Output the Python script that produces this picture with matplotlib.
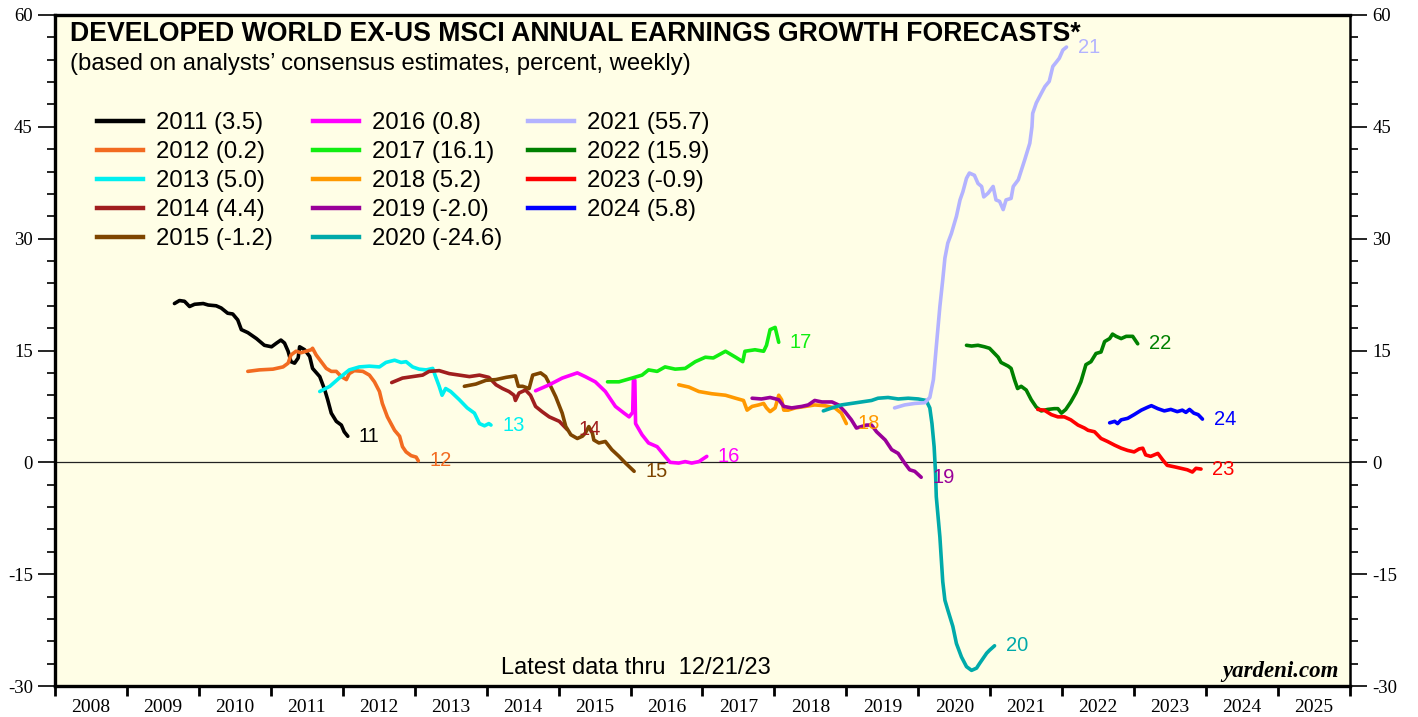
import matplotlib
matplotlib.use('Agg')
import matplotlib.pyplot as plt
from matplotlib.lines import Line2D
from matplotlib.legend import Legend
from matplotlib.ticker import MultipleLocator, FixedLocator, NullFormatter

plt.rcParams['font.family'] = ['Liberation Sans', 'DejaVu Sans']
plt.rcParams['axes.unicode_minus'] = False

# weekly consensus forecasts, x = decimal year
x_2011 = [2009.66, 2009.73, 2009.80, 2009.87, 2009.94, 2010.06, 2010.13, 2010.24, 2010.31, 2010.40,
          2010.47, 2010.54, 2010.59, 2010.68, 2010.80, 2010.91, 2011.01, 2011.08, 2011.14, 2011.19,
          2011.24, 2011.28, 2011.33, 2011.38, 2011.40, 2011.47, 2011.54, 2011.58, 2011.68, 2011.75,
          2011.79, 2011.84, 2011.91, 2011.98, 2012.02, 2012.07]
y_2011 = [21.3, 21.7, 21.6, 20.9, 21.2, 21.3, 21.1, 21.0, 20.7, 20.0,
          19.9, 19.1, 17.8, 17.4, 16.6, 15.7, 15.5, 16.0, 16.4, 16.0,
          14.9, 13.5, 13.3, 14.0, 15.5, 15.1, 14.2, 12.6, 11.5, 9.7,
          8.4, 6.6, 5.5, 5.0, 4.1, 3.5]

x_2012 = [2010.68, 2010.84, 2011.03, 2011.17, 2011.24, 2011.28, 2011.35, 2011.42, 2011.49, 2011.56,
          2011.58, 2011.63, 2011.70, 2011.77, 2011.84, 2011.91, 2011.98, 2012.05, 2012.09, 2012.16,
          2012.28, 2012.37, 2012.44, 2012.51, 2012.55, 2012.62, 2012.72, 2012.79, 2012.83, 2012.88,
          2012.95, 2013.02, 2013.05]
y_2012 = [12.2, 12.4, 12.5, 12.8, 13.3, 14.4, 14.9, 14.7, 14.9, 15.1,
          15.3, 14.4, 13.5, 12.6, 12.2, 12.2, 11.5, 11.1, 11.9, 12.3,
          12.2, 11.7, 10.8, 9.5, 7.9, 6.1, 4.3, 3.5, 2.1, 1.4,
          0.9, 0.7, 0.2]

x_2013 = [2011.68, 2011.82, 2011.95, 2012.09, 2012.23, 2012.37, 2012.51, 2012.60, 2012.72, 2012.81,
          2012.88, 2012.97, 2013.06, 2013.16, 2013.25, 2013.29, 2013.34, 2013.38, 2013.43, 2013.50,
          2013.62, 2013.73, 2013.83, 2013.90, 2013.97, 2014.03, 2014.06]
y_2013 = [9.5, 10.2, 11.3, 12.4, 12.8, 12.9, 12.8, 13.4, 13.7, 13.4,
          13.5, 12.8, 12.5, 12.4, 12.6, 11.5, 10.2, 9.0, 9.9, 9.5,
          8.4, 7.3, 6.6, 5.2, 4.9, 5.2, 5.0]

x_2014 = [2012.68, 2012.83, 2012.97, 2013.11, 2013.20, 2013.34, 2013.48, 2013.62, 2013.76, 2013.90,
          2014.03, 2014.13, 2014.22, 2014.31, 2014.38, 2014.40, 2014.45, 2014.54, 2014.61, 2014.68,
          2014.77, 2014.87, 2015.01, 2015.12]
y_2014 = [10.7, 11.3, 11.5, 11.7, 12.2, 12.3, 11.9, 11.7, 11.5, 11.7,
          11.4, 10.4, 9.9, 9.5, 9.0, 8.3, 9.3, 9.7, 9.0, 7.5,
          6.8, 6.1, 5.5, 4.4]

x_2015 = [2013.69, 2013.85, 2013.99, 2014.13, 2014.27, 2014.40, 2014.44, 2014.50, 2014.59, 2014.64,
          2014.75, 2014.82, 2014.89, 2014.96, 2015.05, 2015.10, 2015.17, 2015.26, 2015.33, 2015.37,
          2015.42, 2015.47, 2015.49, 2015.56, 2015.65, 2015.74, 2015.84, 2015.93, 2016.05]
y_2015 = [10.2, 10.5, 11.0, 11.1, 11.4, 11.6, 10.2, 10.2, 9.9, 11.7,
          12.0, 11.5, 10.2, 8.8, 6.6, 4.8, 3.7, 3.2, 3.5, 3.9,
          4.8, 3.9, 3.0, 2.6, 2.8, 1.7, 0.8, -0.1, -1.2]

x_2016 = [2014.68, 2014.87, 2015.05, 2015.26, 2015.37, 2015.51, 2015.65, 2015.79, 2015.91, 2015.98,
          2016.03, 2016.04, 2016.06, 2016.07, 2016.16, 2016.25, 2016.37, 2016.48, 2016.55, 2016.67,
          2016.76, 2016.85, 2016.95, 2017.06]
y_2016 = [9.6, 10.4, 11.3, 12.0, 11.5, 10.8, 9.5, 7.5, 6.6, 6.1,
          6.7, 11.0, 11.0, 5.2, 3.7, 2.6, 2.1, 0.8, 0.0, -0.1,
          0.1, -0.1, 0.1, 0.8]

x_2017 = [2015.68, 2015.84, 2016.02, 2016.16, 2016.25, 2016.37, 2016.48, 2016.62, 2016.76, 2016.90,
          2017.04, 2017.15, 2017.32, 2017.46, 2017.56, 2017.59, 2017.73, 2017.85, 2017.89, 2017.94,
          2018.01, 2018.06]
y_2017 = [10.8, 10.8, 11.3, 11.7, 12.4, 12.2, 12.8, 12.5, 12.6, 13.5,
          14.1, 14.0, 14.9, 14.1, 13.5, 14.9, 15.1, 14.9, 15.7, 17.8,
          18.1, 16.1]

x_2018 = [2016.67, 2016.81, 2016.95, 2017.13, 2017.32, 2017.46, 2017.57, 2017.62, 2017.69, 2017.78,
          2017.85, 2017.89, 2017.94, 2018.01, 2018.06, 2018.10, 2018.13, 2018.19, 2018.29, 2018.43,
          2018.56, 2018.70, 2018.84, 2018.93, 2019.00]
y_2018 = [10.4, 10.1, 9.5, 9.2, 9.0, 8.6, 8.3, 7.0, 7.5, 7.7,
          7.9, 7.3, 6.8, 7.3, 9.0, 8.4, 7.0, 7.0, 7.3, 7.5,
          7.7, 7.6, 7.3, 6.6, 5.2]

x_2019 = [2017.69, 2017.82, 2017.94, 2018.06, 2018.13, 2018.24, 2018.38, 2018.47, 2018.56, 2018.66,
          2018.80, 2018.89, 2018.98, 2019.07, 2019.14, 2019.21, 2019.28, 2019.35, 2019.42, 2019.54,
          2019.63, 2019.72, 2019.81, 2019.88, 2019.95, 2020.04]
y_2019 = [8.6, 8.5, 8.7, 8.4, 7.5, 7.3, 7.5, 7.7, 8.3, 8.1,
          8.1, 7.7, 6.8, 5.7, 4.6, 4.8, 5.0, 5.0, 4.1, 3.0,
          1.7, 1.2, -0.1, -1.0, -1.2, -2.0]

x_2020 = [2018.68, 2018.80, 2018.93, 2019.07, 2019.21, 2019.35, 2019.44, 2019.58, 2019.72, 2019.86,
          2020.00, 2020.11, 2020.16, 2020.19, 2020.22, 2020.24, 2020.25, 2020.30, 2020.34, 2020.37,
          2020.41, 2020.48, 2020.53, 2020.60, 2020.67, 2020.74, 2020.81, 2020.85, 2020.90, 2020.95,
          2020.99, 2021.06]
y_2020 = [6.9, 7.3, 7.7, 7.9, 8.1, 8.3, 8.6, 8.7, 8.5, 8.6,
          8.5, 8.3, 7.3, 5.2, 2.1, -1.5, -4.6, -10.0, -16.0, -18.5,
          -19.8, -22.0, -24.3, -26.1, -27.4, -27.9, -27.6, -27.0, -26.3, -25.6,
          -25.2, -24.6]

x_2021 = [2019.67, 2019.81, 2019.95, 2020.09, 2020.16, 2020.21, 2020.25, 2020.30, 2020.34, 2020.37,
          2020.41, 2020.46, 2020.53, 2020.58, 2020.62, 2020.67, 2020.71, 2020.78, 2020.83, 2020.88,
          2020.91, 2020.97, 2021.04, 2021.08, 2021.13, 2021.18, 2021.22, 2021.29, 2021.32, 2021.39,
          2021.48, 2021.55, 2021.58, 2021.59, 2021.64, 2021.71, 2021.76, 2021.82, 2021.87, 2021.92,
          2021.96, 2022.01, 2022.06]
y_2021 = [7.3, 7.7, 7.9, 8.0, 8.7, 11.1, 15.5, 20.9, 24.5, 27.4,
          29.4, 30.7, 33.0, 35.2, 36.3, 38.1, 38.8, 38.5, 37.4, 37.0,
          35.6, 36.1, 37.0, 35.2, 35.0, 33.9, 35.2, 35.4, 37.0, 37.9,
          40.6, 42.8, 45.0, 46.8, 48.2, 49.5, 50.4, 51.1, 53.1, 53.7,
          54.2, 55.3, 55.7]

x_2022 = [2020.67, 2020.74, 2020.83, 2020.92, 2020.99, 2021.06, 2021.11, 2021.15, 2021.25, 2021.29,
          2021.34, 2021.38, 2021.43, 2021.50, 2021.57, 2021.64, 2021.71, 2021.80, 2021.89, 2021.94,
          2021.99, 2022.05, 2022.12, 2022.19, 2022.26, 2022.33, 2022.40, 2022.47, 2022.54, 2022.59,
          2022.66, 2022.70, 2022.75, 2022.82, 2022.89, 2022.98, 2023.05]
y_2022 = [15.7, 15.6, 15.7, 15.5, 15.3, 14.6, 14.1, 13.4, 12.9, 12.6,
          11.0, 9.9, 10.2, 9.7, 8.4, 7.4, 6.9, 7.1, 7.2, 7.2,
          6.6, 7.1, 8.1, 9.3, 10.8, 13.1, 13.5, 14.6, 14.8, 16.2,
          16.6, 17.2, 16.9, 16.6, 16.9, 16.9, 15.9]

x_2023 = [2021.66, 2021.75, 2021.85, 2021.94, 2022.03, 2022.12, 2022.22, 2022.31, 2022.36, 2022.45,
          2022.54, 2022.63, 2022.73, 2022.82, 2022.91, 2023.00, 2023.07, 2023.12, 2023.16, 2023.23,
          2023.33, 2023.40, 2023.46, 2023.56, 2023.65, 2023.74, 2023.81, 2023.86, 2023.93]
y_2023 = [7.1, 7.0, 6.4, 6.1, 6.1, 5.7, 5.0, 4.6, 4.3, 4.1,
          3.2, 2.8, 2.3, 1.9, 1.6, 1.4, 1.8, 1.9, 1.0, 0.8,
          1.2, 0.3, -0.4, -0.6, -0.8, -1.0, -1.3, -0.8, -0.9]

x_2024 = [2022.66, 2022.73, 2022.77, 2022.82, 2022.91, 2023.00, 2023.10, 2023.19, 2023.24, 2023.33,
          2023.42, 2023.51, 2023.60, 2023.67, 2023.72, 2023.77, 2023.83, 2023.89, 2023.95]
y_2024 = [5.3, 5.5, 5.2, 5.7, 5.9, 6.4, 7.0, 7.4, 7.6, 7.2,
          6.9, 7.1, 6.8, 7.0, 6.7, 7.1, 6.6, 6.4, 5.8]

years = [2011, 2012, 2013, 2014, 2015, 2016, 2017, 2018, 2019, 2020, 2021, 2022, 2023, 2024]
final_values = [3.5, 0.2, 5.0, 4.4, -1.2, 0.8, 16.1, 5.2, -2.0, -24.6, 55.7, 15.9, -0.9, 5.8]
xs = [x_2011, x_2012, x_2013, x_2014, x_2015, x_2016, x_2017, x_2018, x_2019, x_2020,
      x_2021, x_2022, x_2023, x_2024]
ys = [y_2011, y_2012, y_2013, y_2014, y_2015, y_2016, y_2017, y_2018, y_2019, y_2020,
      y_2021, y_2022, y_2023, y_2024]
colors = ['#000000', '#F26B21', '#00F0F0', '#A01E1E', '#7E4500', '#FF00FF', '#11EE11',
          '#FF9900', '#990099', '#00AAAA', '#B3B3FF', '#008000', '#FF0000', '#0000FF']

fig = plt.figure(figsize=(14.18, 7.17), dpi=100)
ax = fig.add_axes([0.0388, 0.0432, 0.9132, 0.9359])
ax.set_facecolor('#FFFEE6')

ax.axhline(0, color='#222222', lw=0.9, zorder=1)

handles = []
for yr, xv, yv, c, fv in zip(years, xs, ys, colors, final_values):
    ax.plot(xv, yv, color=c, lw=2.6, solid_joinstyle='round', solid_capstyle='round', zorder=3)
    ax.annotate(str(yr)[2:], (xv[-1], yv[-1]), xytext=(8, 0), textcoords='offset points',
                color=c, fontsize=14.5, va='center', ha='left', zorder=4)
    handles.append(Line2D([], [], color=c, lw=3.2, label=f'{yr} ({fv:.1f})'))

ax.set_xlim(2008, 2026)
ax.set_ylim(-30, 60)

# year boundaries as ticks, year labels centred in between
ax.xaxis.set_major_locator(FixedLocator(list(range(2008, 2027))))
ax.xaxis.set_major_formatter(NullFormatter())
ax.xaxis.set_minor_locator(FixedLocator([y + 0.5 for y in range(2008, 2026)]))
ax.set_xticklabels([str(y) for y in range(2008, 2026)], minor=True)
ax.tick_params(axis='x', which='major', direction='out', length=7, width=2)
ax.tick_params(axis='x', which='minor', length=0, pad=9, labelsize=14)

ax.yaxis.set_major_locator(MultipleLocator(15))
ax.yaxis.set_minor_locator(MultipleLocator(3))
ax.tick_params(axis='y', which='both', direction='out', left=True, right=True,
               labelleft=True, labelright=True, width=1.2, labelsize=13.5, pad=4)
ax.tick_params(axis='y', which='major', length=12)
ax.tick_params(axis='y', which='minor', length=6)
for lab in ax.get_xticklabels(minor=True) + ax.get_yticklabels():
    lab.set_fontfamily('Liberation Serif')

for side in ['left', 'bottom', 'top']:
    ax.spines[side].set_linewidth(2.4)
ax.spines['right'].set_linewidth(1.8)

ax.text(0.0116, 0.9717, 'DEVELOPED WORLD EX-US MSCI ANNUAL EARNINGS GROWTH FORECASTS*',
        transform=ax.transAxes, fontsize=19.2, fontweight='bold', va='center', ha='left')
ax.text(0.0116, 0.927, '(based on analysts\u2019 consensus estimates, percent, weekly)',
        transform=ax.transAxes, fontsize=17.2, va='center', ha='left')

col_left = [0.0324, 0.1992, 0.3653]
groups = [handles[0:5], handles[5:10], handles[10:14]]
for xl, hs in zip(col_left, groups):
    leg = Legend(ax, hs, [h.get_label() for h in hs], loc='upper left',
                 bbox_to_anchor=(xl, 0.855), frameon=False, fontsize=17.2,
                 handlelength=1.92, handletextpad=0.54, labelspacing=0.29,
                 borderpad=0, borderaxespad=0)
    ax.add_artist(leg)

ax.text(0.4486, 0.0268, 'Latest data thru  12/21/23', transform=ax.transAxes,
        fontsize=17, ha='center', va='center')
ax.text(0.9915, 0.021, 'yardeni.com', transform=ax.transAxes, fontsize=16.5,
        fontweight='bold', fontstyle='italic', fontfamily='Liberation Serif',
        ha='right', va='center')

fig.savefig('out.png', dpi=100, facecolor='white')
